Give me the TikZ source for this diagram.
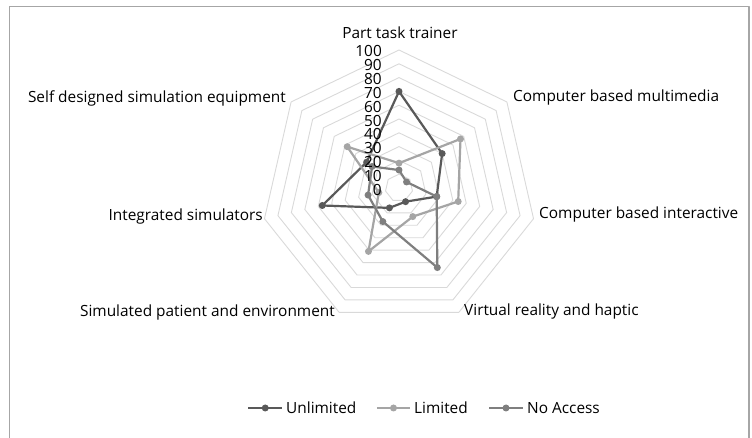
\documentclass[tikz,border=0pt]{standalone}
\usepackage{fontspec}
\setmainfont{Open Sans}
\usetikzlibrary{positioning}
\definecolor{unlim}{HTML}{595959}
\definecolor{lim}{HTML}{A5A5A5}
\definecolor{noacc}{HTML}{7F7F7F}
\definecolor{ringgray}{HTML}{D9D9D9}
\definecolor{framegray}{HTML}{A6A6A6}
\tikzset{
  lbl/.style={inner sep=0pt, font=\fontsize{15.4}{17}\selectfont},
  dot/.style={circle, fill, inner sep=0pt, minimum size=7pt},
  serie/.style={line width=2.2pt},
}

\begin{document}
\begin{tikzpicture}[x=1pt, y=1pt, line join=round]
		\useasboundingbox (-399,-250) rectangle (353,188);
		\draw[framegray, line width=1.3pt] (-389.5,-260) -- (-389.5,181.3) -- (350,181.3) -- (350,-260);
		
		% rings 10..100
		\foreach \r in {1,...,10}
			\draw[ringgray, line width=0.9pt] (90:13.8*\r) \foreach \k in {1,...,6} { -- (90-360/7*\k:13.8*\r) } -- cycle;
		
		% axis labels
		\draw (1,155.7) node[lbl] (pt) {Part task trainer}
		(114,90) node[lbl, anchor=west] (cbm) {Computer based multimedia}
		(140,-27) node[lbl, anchor=west] (cbi) {Computer based interactive}
		(65,-124) node[lbl, anchor=west] (vr) {Virtual reality and haptic}
		(-64,-125) node[lbl, anchor=east] (sp) {Simulated patient and environment}
		(-136,-29) node[lbl, anchor=east] (is) {Integrated simulators}
		(-113,90) node[lbl, anchor=east] (sd) {Self designed simulation equipment};
		
		% data
		\foreach \v [count=\k from 0] in {70,40,28,11,16,57,30}
			\coordinate (u\k) at (90-360/7*\k:1.38*\v);
		\foreach \v [count=\k from 0] in {18,57,44,23,51,15,48}
			\coordinate (l\k) at (90-360/7*\k:1.38*\v);
		\foreach \v [count=\k from 0] in {13,7,28,64,27,23,25}
			\coordinate (n\k) at (90-360/7*\k:1.38*\v);
		
		\draw[unlim, serie] (u0) -- (u1) -- (u2) -- (u3) -- (u4) -- (u5) -- (u6) -- cycle;
		\foreach \k in {0,...,6} \node[dot, fill=unlim] (um\k) at (u\k) {};
		\draw[lim, serie] (l0) -- (l1) -- (l2) -- (l3) -- (l4) -- (l5) -- (l6) -- cycle;
		\foreach \k in {0,...,6} \node[dot, fill=lim] (lm\k) at (l\k) {};
		\draw[noacc, serie] (n0) -- (n1) -- (n2) -- (n3) -- (n4) -- (n5) -- (n6) -- cycle;
		\foreach \k in {0,...,6} \node[dot, fill=noacc] (nm\k) at (n\k) {};
		
		% scale
		\foreach \t in {0,10,...,100}
			\node[lbl, anchor=east] (t\t) at (-17,-2+1.39*\t) {\t};
		
		% legend
		\coordinate (lu1) at (-150.5,-220); \coordinate (lu2) at (-117,-220);
		\coordinate (ll1) at (-22,-220); \coordinate (ll2) at (11,-220);
		\coordinate (ln1) at (90,-220); \coordinate (ln2) at (124,-220);
		\draw[unlim, serie] (lu1) -- (lu2) node[dot, fill=unlim, midway] (lum) {};
		\draw[lim, serie] (ll1) -- (ll2) node[dot, fill=lim, midway] (llm) {};
		\draw[noacc, serie] (ln1) -- (ln2) node[dot, fill=noacc, midway] (lnm) {};
		\node[lbl, right=4pt of lu2] (lgu) {Unlimited};
		\node[lbl, right=4pt of ll2] (lgl) {Limited};
		\node[lbl, right=4pt of ln2] (lgn) {No Access};
	\end{tikzpicture}
\end{document}
